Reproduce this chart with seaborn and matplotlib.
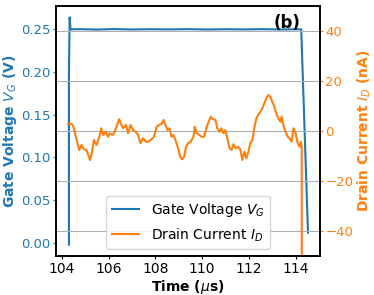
import seaborn as sns
import matplotlib.pyplot as plt
import pandas as pd

# gate voltage trace (V)
t_gate = [104.30, 104.30, 104.33, 104.37, 104.8, 105.5, 106.2, 107.0, 107.8, 108.6,
          109.4, 110.2, 111.0, 111.8, 112.6, 113.4, 114.0, 114.24, 114.53]
v_gate = [-0.002, 0.20, 0.264, 0.250, 0.2502, 0.2497, 0.2503, 0.2498, 0.2501, 0.2499,
          0.2502, 0.2498, 0.2501, 0.2499, 0.2502, 0.2498, 0.2501, 0.250, 0.012]

# drain current trace (nA)
t_drain = [104.26, 104.34, 104.46, 104.51, 104.63, 104.74, 104.84, 104.94, 105.05, 105.20,
           105.28, 105.37, 105.48, 105.60, 105.68, 105.77, 105.88, 105.97, 106.05, 106.17,
           106.26, 106.36, 106.45, 106.53, 106.62, 106.74, 106.83, 106.94, 107.05, 107.16,
           107.26, 107.36, 107.47, 107.59, 107.69, 107.83, 107.94, 108.05, 108.15, 108.26,
           108.35, 108.43, 108.52, 108.60, 108.69, 108.77, 108.86, 108.97, 109.06, 109.14,
           109.23, 109.31, 109.40, 109.51, 109.63, 109.68, 109.77, 109.88, 109.97, 110.08,
           110.20, 110.28, 110.37, 110.47, 110.57, 110.65, 110.74, 110.82, 110.91, 110.99,
           111.08, 111.17, 111.26, 111.34, 111.44, 111.55, 111.64, 111.72, 111.81, 111.89,
           111.98, 112.06, 112.15, 112.23, 112.32, 112.40, 112.49, 112.58, 112.66, 112.75,
           112.83, 112.92, 113.00, 113.09, 113.17, 113.26, 113.35, 113.40, 113.49, 113.57,
           113.66, 113.74, 113.83, 113.91, 114.00, 114.09, 114.17, 114.23, 114.26, 114.27]
i_drain = [2.8, 3.1, 2.4, 1.1, -3.6, -7.6, -5.6, -7.3, -7.6, -11.6,
           -8.8, -3.6, -5.6, -2.3, 1.1, -1.6, -0.3, -2.3, -0.9, -1.6,
           -0.3, 2.4, 4.7, 2.8, 1.1, 2.4, -0.9, 2.4, 0.4, -0.3,
           -1.6, -4.9, -2.9, -4.3, -4.3, -3.3, -2.3, 1.7, 2.4, 2.8,
           4.4, 2.4, 0.4, 1.1, -2.3, -1.6, -3.6, -6.9, -10.3, -11.3,
           -10.3, -6.3, -4.9, -4.3, -2.3, 1.7, -0.9, -1.6, -2.3, -2.3,
           1.7, 3.7, 5.7, 4.7, 4.4, 1.1, -0.3, 1.1, -0.9, 0.4,
           -2.9, -6.9, -7.6, -5.3, -6.9, -6.3, -7.6, -11.6, -8.3, -10.9,
           -8.3, -4.9, -3.6, 1.1, 5.1, 6.4, 7.7, 9.1, 11.1, 13.1,
           14.4, 13.7, 11.7, 9.7, 7.1, 5.1, 3.7, 5.7, 1.7, -0.3,
           -2.3, -2.9, -4.3, 1.1, -0.9, -4.9, -6.3, -4.3, -6.9, -90.0]

df_gate = pd.DataFrame({'t': t_gate, 'v': v_gate})
df_drain = pd.DataFrame({'t': t_drain, 'i': i_drain})

blue = '#1f77b4'
orange = '#ff7f0e'

fig, ax1 = plt.subplots(figsize=(3.74, 2.95), dpi=100)
fig.subplots_adjust(left=56/374, right=320/374, top=1-6/295, bottom=1-256/295)
ax2 = ax1.twinx()

sns.lineplot(data=df_gate, x='t', y='v', ax=ax1, color=blue, lw=1.5,
             estimator=None, sort=False, label='Gate Voltage $V_G$', legend=False)
sns.lineplot(data=df_drain, x='t', y='i', ax=ax2, color=orange, lw=1.5,
             estimator=None, sort=False, label='Drain Current $I_D$', legend=False)

ax2.set_ylim(-50, 50)
ax2.set_yticks([-40, -20, 0, 20, 40])
ax2.grid(True, axis='y', color='#b0b0b0', lw=0.8)
ax1.set_xticks([104, 106, 108, 110, 112, 114])

ax1.set_xlabel(r'Time ($\mu$s)', fontsize=10, fontweight='bold', labelpad=2)
ax1.set_ylabel('Gate Voltage $V_G$ (V)', fontsize=10, fontweight='bold', color=blue, labelpad=1.5)
ax2.set_ylabel('Drain Current $I_D$ (nA)', fontsize=10, fontweight='bold', color=orange, labelpad=1.5)
ax1.tick_params(axis='y', colors=blue, labelsize=9.5, length=2.5, pad=1.2)
ax1.tick_params(axis='x', labelsize=10, length=2.5, pad=1.5)
ax2.tick_params(axis='y', colors=orange, labelsize=9.5, length=2.5, pad=1.2)

for ax in (ax1, ax2):
    for s in ax.spines.values():
        s.set_linewidth(1.2)

ax2.text(0.875, 0.932, '(b)', transform=ax2.transAxes, fontsize=12,
         fontweight='bold', ha='center', va='center')

h1, l1 = ax1.get_legend_handles_labels()
h2, l2 = ax2.get_legend_handles_labels()
ax2.legend(h1 + h2, l1 + l2, loc='lower center', fontsize=10)

fig.savefig('out.png', dpi=100)
